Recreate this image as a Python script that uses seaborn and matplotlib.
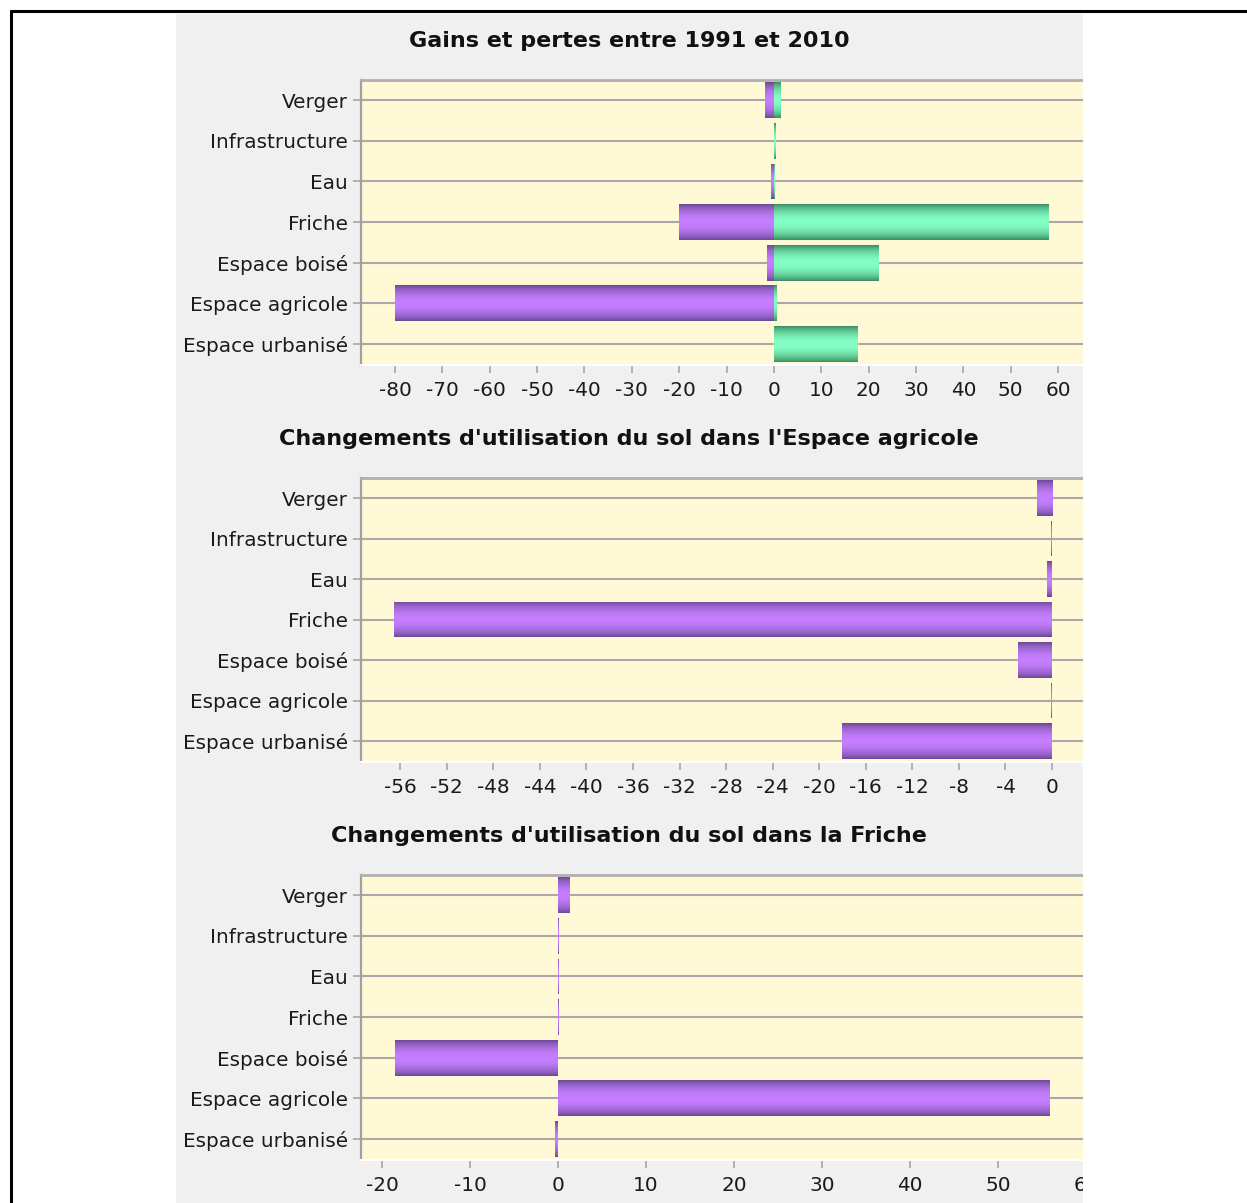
import numpy as np
import pandas as pd
import matplotlib
matplotlib.use("Agg")
import matplotlib.pyplot as plt
import seaborn as sns
from matplotlib.colors import LinearSegmentedColormap
from matplotlib.patches import Rectangle
from matplotlib.lines import Line2D

# ---------------- data ----------------
categories = ["Verger", "Infrastructure", "Eau", "Friche",
              "Espace boisé", "Espace agricole", "Espace urbanisé"]

# Chart 1: gains and losses 1991-2010
pertes_total = [-1.9, -0.05, -0.6, -20.0, -1.5, -80.0, -0.05]
gains_total = [1.4, 0.25, 0.1, 58.0, 22.0, 0.6, 17.7]

# Chart 2: changes in agricultural land
changes_agricole = [-1.3, -0.05, -0.4, -56.5, -2.9, -0.05, -18.0]

# Chart 3: changes in fallow land
changes_friche = [1.3, 0.08, 0.08, 0.08, -18.5, 55.9, -0.3]

titles = ["Gains et pertes entre 1991 et 2010",
          "Changements d'utilisation du sol dans l'Espace agricole",
          "Changements d'utilisation du sol dans la Friche"]

ticks1 = list(range(-80, 70, 10))
ticks2 = list(range(-56, 8, 4))
ticks3 = list(range(-20, 70, 10))

# ---------------- style ----------------
W, H = 1247, 1203
sns.set_theme(style="white")
plt.rcParams["font.family"] = ["DejaVu Sans"]
plt.rcParams["axes.unicode_minus"] = False

PURPLE = "#A46AE0"
GREEN = "#5FD69A"
cmap_purple = LinearSegmentedColormap.from_list("p", ["#6C4896", "#C47EFF"])
cmap_green = LinearSegmentedColormap.from_list("g", ["#3A8C63", "#84FFC4"])

fig = plt.figure(figsize=(W / 100, H / 100), dpi=100, facecolor="white")

# grey panel
fig.add_artist(Rectangle((176 / W, 0), (1083 - 176) / W, (H - 14) / H,
                         transform=fig.transFigure, facecolor="#F0F0F0",
                         edgecolor="none", zorder=-10))


def rect(l, t, r, b):
    return [l / W, 1 - b / H, (r - l) / W, (b - t) / H]


def shade(ax, patches, cmap):
    t = np.linspace(0, 1, 64)
    prof = np.sin(np.pi * t) ** 0.8
    grad = prof.reshape(-1, 1)
    for p in patches:
        bb = p.get_bbox()
        x0, x1 = sorted([bb.x0, bb.x1])
        y0, y1 = sorted([bb.y0, bb.y1])
        if x1 - x0 <= 0:
            continue
        im = ax.imshow(grad, extent=[x0, x1, y1, y0], aspect="auto",
                       cmap=cmap, vmin=0, vmax=1, zorder=1.5,
                       interpolation="bilinear")
        im.set_clip_path(p)


def panel_chart(ax, series, xlim, ticks, title, title_y):
    ax.set_facecolor("#FFF9D6")
    for vals, cmap, color in series:
        n0 = len(ax.patches)
        df = pd.DataFrame({"cat": categories, "val": vals})
        sns.barplot(data=df, x="val", y="cat", order=categories, orient="h",
                    color=color, width=0.88, errorbar=None, saturation=1,
                    linewidth=0, ax=ax)
        shade(ax, ax.patches[n0:], cmap)
    ax.set_xlim(*xlim)
    ax.set_ylim(6.52, -0.5)
    ax.set_xticks(ticks)
    ax.set_xticklabels([str(v) for v in ticks])
    ax.set_xlabel("")
    ax.set_ylabel("")
    ax.set_axisbelow(True)
    ax.yaxis.grid(True, color="#A9A9A9", lw=1.5)
    ax.xaxis.grid(False)
    ax.spines["left"].set_color("#A0A0A0")
    ax.spines["left"].set_linewidth(1.6)
    ax.spines["top"].set_color("#B0B0B0")
    ax.spines["top"].set_linewidth(2)
    ax.spines["bottom"].set_color("white")
    ax.spines["bottom"].set_linewidth(1.5)
    ax.spines["right"].set_visible(False)
    ax.tick_params(axis="y", left=True, length=6, width=1.1, color="#A0A0A0",
                   pad=3.6, labelsize=14.4, labelcolor="#1A1A1A")
    ax.tick_params(axis="x", bottom=True, length=5.5, width=1.1,
                   color="#A0A0A0", pad=6.0, labelsize=14.4,
                   labelcolor="#1A1A1A")
    fig.text(629 / W, 1 - title_y / H, title, ha="center", va="center",
             fontsize=16, fontweight="bold", color="#111111")


RIGHT = 1100
# chart 1: 4.736 px/unit, 0 at 773.9
s1 = 4.736
ax1 = fig.add_axes(rect(361, 80, RIGHT, 365))
panel_chart(ax1, [(pertes_total, cmap_purple, PURPLE), (gains_total, cmap_green, GREEN)],
            ((361 - 773.9) / s1, (RIGHT - 773.9) / s1), ticks1, titles[0], 41)

# chart 2: 11.64 px/unit, 0 at 1052
s2 = 11.64
ax2 = fig.add_axes(rect(361, 478, RIGHT, 762))
panel_chart(ax2, [(changes_agricole, cmap_purple, PURPLE)],
            ((361 - 1052) / s2, (RIGHT - 1052) / s2), ticks2, titles[1], 439)

# chart 3: 8.8 px/unit, 0 at 558
s3 = 8.8
ax3 = fig.add_axes(rect(361, 875, RIGHT, 1160))
panel_chart(ax3, [(changes_friche, cmap_purple, PURPLE)],
            ((361 - 558) / s3, (RIGHT - 558) / s3), ticks3, titles[2], 836)

# white cover to the right of the panel (clips the charts)
fig.add_artist(Rectangle((1083 / W, 0), 1 - 1083 / W, 1,
                         transform=fig.transFigure, facecolor="white",
                         edgecolor="none", zorder=10))
# black border lines (left and top)
fig.add_artist(Line2D([10.5 / W, 10.5 / W], [0, 1 - 10.5 / H],
                      transform=fig.transFigure, color="black", lw=2.2, zorder=20))
fig.add_artist(Line2D([10.5 / W, 1], [1 - 10.5 / H, 1 - 10.5 / H],
                      transform=fig.transFigure, color="black", lw=2.2, zorder=20))

fig.savefig("out.png", dpi=100, facecolor="white")
